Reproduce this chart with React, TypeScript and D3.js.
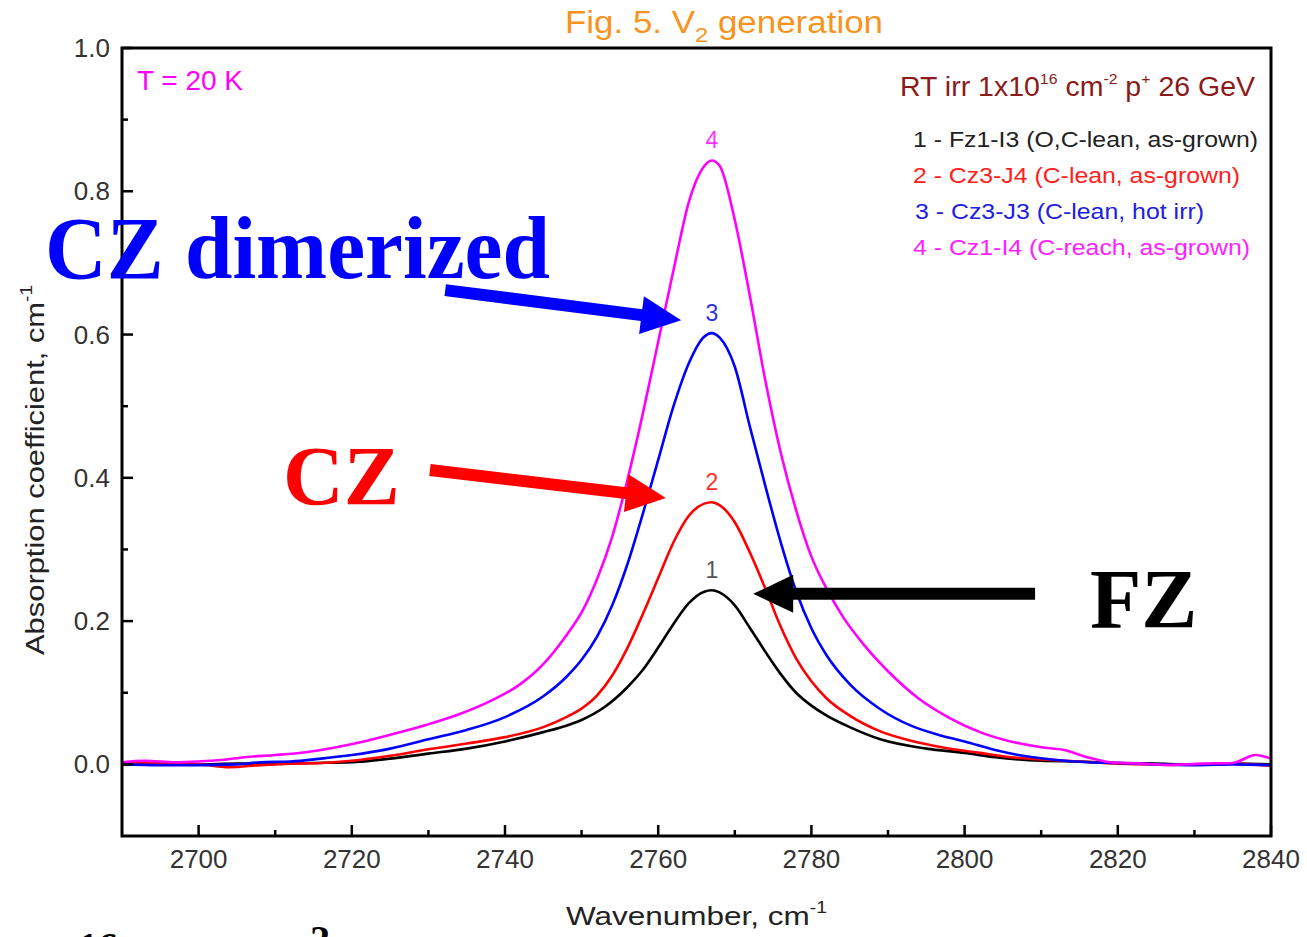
import React from "react";
import * as d3 from "d3";

// ---- Data: absorption spectra (wavenumber cm^-1, absorption coefficient cm^-1) ----
const fz1I3: [number, number][] = [
  [2690, 0.0], [2695, 0.001], [2700, 0.0], [2705, 0.001], [2710, 0.001], [2715, 0.002],
  [2720, 0.003], [2725, 0.008], [2730, 0.015], [2735, 0.022], [2740, 0.032], [2745, 0.045],
  [2748, 0.054], [2750, 0.062], [2753, 0.08], [2756, 0.108], [2758, 0.132], [2760, 0.163],
  [2762, 0.196], [2764, 0.225], [2766, 0.241], [2767, 0.243], [2768, 0.24], [2770, 0.222],
  [2772, 0.19], [2774, 0.157], [2776, 0.126], [2778, 0.1], [2780, 0.082], [2782, 0.068],
  [2785, 0.052], [2789, 0.035], [2795, 0.022], [2800, 0.016], [2804, 0.01], [2810, 0.005],
  [2815, 0.004], [2820, 0.002], [2825, 0.001], [2830, 0.0], [2835, 0.001], [2840, 0.0],
];

const cz3J4: [number, number][] = [
  [2690, 0.002], [2695, 0.001], [2700, 0.0], [2704, -0.004], [2708, -0.001], [2712, 0.001],
  [2716, 0.002], [2720, 0.005], [2725, 0.012], [2730, 0.021], [2735, 0.029], [2740, 0.038],
  [2745, 0.052], [2748, 0.066], [2750, 0.078], [2752, 0.096], [2754, 0.124], [2756, 0.163],
  [2758, 0.21], [2760, 0.26], [2762, 0.31], [2764, 0.347], [2766, 0.364], [2767, 0.366],
  [2768, 0.362], [2770, 0.338], [2772, 0.295], [2774, 0.245], [2776, 0.192], [2778, 0.148],
  [2780, 0.116], [2782, 0.092], [2785, 0.068], [2789, 0.046], [2793, 0.033], [2797, 0.024],
  [2802, 0.016], [2806, 0.01], [2810, 0.007], [2815, 0.004], [2820, 0.001], [2825, 0.0],
  [2830, 0.0], [2835, 0.001], [2840, -0.002],
];

const cz3J3: [number, number][] = [
  [2690, 0.0], [2695, -0.001], [2700, -0.001], [2705, 0.0], [2708, 0.003], [2712, 0.004],
  [2716, 0.008], [2720, 0.013], [2725, 0.022], [2730, 0.035], [2735, 0.048], [2740, 0.066],
  [2745, 0.095], [2748, 0.122], [2750, 0.146], [2752, 0.178], [2754, 0.222], [2756, 0.28],
  [2758, 0.35], [2760, 0.425], [2762, 0.5], [2764, 0.56], [2766, 0.597], [2767, 0.602],
  [2768, 0.596], [2770, 0.555], [2772, 0.47], [2774, 0.388], [2776, 0.31], [2778, 0.242],
  [2780, 0.19], [2782, 0.152], [2785, 0.112], [2789, 0.077], [2793, 0.054], [2797, 0.04],
  [2800, 0.032], [2804, 0.02], [2807, 0.013], [2812, 0.006], [2816, 0.003], [2820, 0.002],
  [2825, 0.0], [2830, -0.001], [2835, 0.0], [2840, -0.001],
];

const cz1I4: [number, number][] = [
  [2690, 0.003], [2693, 0.005], [2697, 0.003], [2700, 0.004], [2703, 0.006], [2706, 0.01],
  [2710, 0.013], [2714, 0.017], [2718, 0.024], [2722, 0.033], [2726, 0.044], [2730, 0.056],
  [2734, 0.07], [2738, 0.088], [2742, 0.112], [2745, 0.14], [2748, 0.18], [2750, 0.212],
  [2752, 0.258], [2754, 0.318], [2756, 0.398], [2758, 0.49], [2760, 0.59], [2762, 0.69],
  [2764, 0.785], [2766, 0.835], [2767, 0.843], [2768, 0.836], [2770, 0.76], [2772, 0.652],
  [2774, 0.535], [2776, 0.435], [2778, 0.355], [2780, 0.29], [2782, 0.245], [2784, 0.208],
  [2787, 0.165], [2790, 0.13], [2794, 0.092], [2798, 0.065], [2802, 0.045], [2806, 0.032],
  [2810, 0.024], [2813, 0.02], [2816, 0.01], [2819, 0.003], [2823, 0.001], [2827, -0.001],
  [2831, 0.001], [2835, 0.002], [2838, 0.013], [2840, 0.008],
];

const seriesData = [fz1I3, cz3J4, cz3J3, cz1I4];
const seriesNumbers = ["1", "2", "3", "4"];
const seriesColors = ["#000000", "#ff0000", "#0000ff", "#ff00ff"];
const peakLabelColors = ["#555555", "#ff3030", "#3030e0", "#ff30ff"];
const legendLabels = [
  "1 - Fz1-I3 (O,C-lean, as-grown)",
  "2 - Cz3-J4 (C-lean, as-grown)",
  "3 - Cz3-J3 (C-lean, hot irr)",
  "4 - Cz1-I4 (C-reach, as-grown)",
];
const legendTextColors = ["#222222", "#ff2020", "#2020e0", "#ff20ff"];
const legendWidths = [345, 327, 289, 337];

const xMajorTicks = [2700, 2720, 2740, 2760, 2780, 2800, 2820, 2840];
const xMinorTicks = [2710, 2730, 2750, 2770, 2790, 2810, 2830];
const yMajorTicks = [0.0, 0.2, 0.4, 0.6, 0.8, 1.0];
const yMinorTicks = [0.1, 0.3, 0.5, 0.7, 0.9];

// Arrow annotations in data units: [x0, y0, xTip, yTip]
const arrowBlue = [2732.2, 0.662, 2763.0, 0.62];
const arrowRed = [2730.2, 0.411, 2761.0, 0.372];
const arrowBlack = [2809.2, 0.238, 2772.4, 0.238];

const W = 1307;
const H = 937;
const frame = { left: 122, right: 1271, top: 48, bottom: 836 };
const SANS = "'Liberation Sans', Arial, sans-serif";
const SERIF = "'Liberation Serif', 'Times New Roman', serif";

function Arrow({ pts, color, xs, ys }: { pts: number[]; color: string; xs: any; ys: any }) {
  const x0 = xs(pts[0]);
  const y0 = ys(pts[1]);
  const x1 = xs(pts[2]);
  const y1 = ys(pts[3]);
  const dx = x1 - x0;
  const dy = y1 - y0;
  const len = Math.hypot(dx, dy);
  const ux = dx / len;
  const uy = dy / len;
  const headLen = 40;
  const headHalf = 19;
  const bx = x1 - ux * headLen;
  const by = y1 - uy * headLen;
  const px = -uy;
  const py = ux;
  const head = `${x1},${y1} ${bx + px * headHalf},${by + py * headHalf} ${bx - px * headHalf},${by - py * headHalf}`;
  return (
    <g>
      <line x1={x0} y1={y0} x2={bx + ux * 2} y2={by + uy * 2} stroke={color} strokeWidth={12} />
      <polygon points={head} fill={color} />
    </g>
  );
}

export default function App() {
  const x = d3.scaleLinear().domain([2690, 2840]).range([frame.left, frame.right]);
  const y = d3.scaleLinear().domain([-0.1, 1.0]).range([frame.bottom, frame.top]);
  const line = d3
    .line<[number, number]>()
    .x((d) => x(d[0]))
    .y((d) => y(d[1]))
    .curve(d3.curveMonotoneX);

  const peaks = seriesData.map((s) => s.reduce((a, b) => (b[1] > a[1] ? b : a)));

  return (
    <svg
      width={W}
      height={H}
      style={{ position: "absolute", left: 0, top: 0, background: "#fff" }}
      fontFamily={SANS}
    >
      <rect x={0} y={0} width={W} height={H} fill="#fff" />

      {/* Title */}
      <text x={565} y={33} fontSize={31} fill="#f7931e" textLength={318} lengthAdjust="spacingAndGlyphs">
        Fig. 5. V
        <tspan fontSize={21} dy={9}>2</tspan>
        <tspan dy={-9}> generation</tspan>
      </text>

      <defs>
        <clipPath id="plotClip">
          <rect x={frame.left} y={frame.top} width={frame.right - frame.left} height={frame.bottom - frame.top} />
        </clipPath>
      </defs>

      {/* Spectra */}
      <g clipPath="url(#plotClip)">
        {seriesData.map((s, i) => (
          <path key={i} d={line(s) || ""} fill="none" stroke={seriesColors[i]} strokeWidth={2.6} strokeLinejoin="round" />
        ))}
      </g>

      {/* Peak numbers */}
      {peaks.map((p, i) => (
        <text
          key={i}
          x={x(p[0])}
          y={y(p[1]) - 12}
          textAnchor="middle"
          fontSize={23}
          fill={peakLabelColors[i]}
        >
          {seriesNumbers[i]}
        </text>
      ))}

      {/* Frame */}
      <rect
        x={frame.left}
        y={frame.top}
        width={frame.right - frame.left}
        height={frame.bottom - frame.top}
        fill="none"
        stroke="#000"
        strokeWidth={3}
      />

      {/* X ticks (inward) */}
      {xMajorTicks.map((t) => (
        <g key={"xM" + t}>
          <line x1={x(t)} x2={x(t)} y1={frame.bottom} y2={frame.bottom - 11} stroke="#000" strokeWidth={2.5} />
          <text x={x(t)} y={868} textAnchor="middle" fontSize={26} fill="#333">
            {t}
          </text>
        </g>
      ))}
      {xMinorTicks.map((t) => (
        <line key={"xm" + t} x1={x(t)} x2={x(t)} y1={frame.bottom} y2={frame.bottom - 6} stroke="#000" strokeWidth={2.5} />
      ))}

      {/* Y ticks (inward) */}
      {yMajorTicks.map((t) => (
        <g key={"yM" + t}>
          <line x1={frame.left} x2={frame.left + 11} y1={y(t)} y2={y(t)} stroke="#000" strokeWidth={2.5} />
          <text x={110} y={y(t) + 9} textAnchor="end" fontSize={26} fill="#333">
            {t.toFixed(1)}
          </text>
        </g>
      ))}
      {yMinorTicks.map((t) => (
        <line key={"ym" + t} x1={frame.left} x2={frame.left + 6} y1={y(t)} y2={y(t)} stroke="#000" strokeWidth={2.5} />
      ))}

      {/* Axis titles */}
      <text x={566} y={925} fontSize={26} fill="#222" textLength={261} lengthAdjust="spacingAndGlyphs">
        Wavenumber, cm<tspan fontSize={16} dy={-12}>-1</tspan>
      </text>
      <text
        transform="translate(44,655) rotate(-90)"
        fontSize={26}
        fill="#222"
        textLength={370}
        lengthAdjust="spacingAndGlyphs"
      >
        Absorption coefficient, cm<tspan fontSize={16} dy={-12}>-1</tspan>
      </text>

      {/* In-plot notes */}
      <text x={137} y={90} fontSize={27} fill="#ff00ff" textLength={106} lengthAdjust="spacingAndGlyphs">
        T = 20 K
      </text>
      <text x={900} y={96} fontSize={27} fill="#8b1a1a" textLength={355} lengthAdjust="spacingAndGlyphs">
        RT irr 1x10<tspan fontSize={15} dy={-12}>16</tspan>
        <tspan dy={12}> cm</tspan>
        <tspan fontSize={15} dy={-12}>-2</tspan>
        <tspan dy={12}> p</tspan>
        <tspan fontSize={15} dy={-12}>+</tspan>
        <tspan dy={12}> 26 GeV</tspan>
      </text>

      {/* Legend */}
      {legendLabels.map((l, i) => (
        <text
          key={i}
          x={i === 2 ? 915 : 913}
          y={147 + i * 36}
          fontSize={22.5}
          fill={legendTextColors[i]}
          textLength={legendWidths[i]}
          lengthAdjust="spacingAndGlyphs"
        >
          {l}
        </text>
      ))}

      {/* Annotations */}
      <Arrow pts={arrowBlue} color="#0000ff" xs={x} ys={y} />
      <Arrow pts={arrowRed} color="#ff0000" xs={x} ys={y} />
      <Arrow pts={arrowBlack} color="#000000" xs={x} ys={y} />

      <text
        x={45}
        y={278}
        fontFamily={SERIF}
        fontWeight="bold"
        fontSize={88}
        fill="#0000ff"
        textLength={505}
        lengthAdjust="spacingAndGlyphs"
      >
        CZ dimerized
      </text>
      <text x={283} y={505} fontFamily={SERIF} fontWeight="bold" fontSize={84} fill="#ff0000">
        CZ
      </text>
      <text x={1090} y={628} fontFamily={SERIF} fontWeight="bold" fontSize={84} fill="#000000">
        FZ
      </text>

      {/* Start of the next caption line */}
      <text x={78} y={960} fontFamily={SERIF} fontWeight="bold" fontSize={40} fill="#000">
        16
      </text>
      <text x={310} y={953} fontFamily={SERIF} fontWeight="bold" fontSize={40} fill="#000">
        2
      </text>
    </svg>
  );
}
